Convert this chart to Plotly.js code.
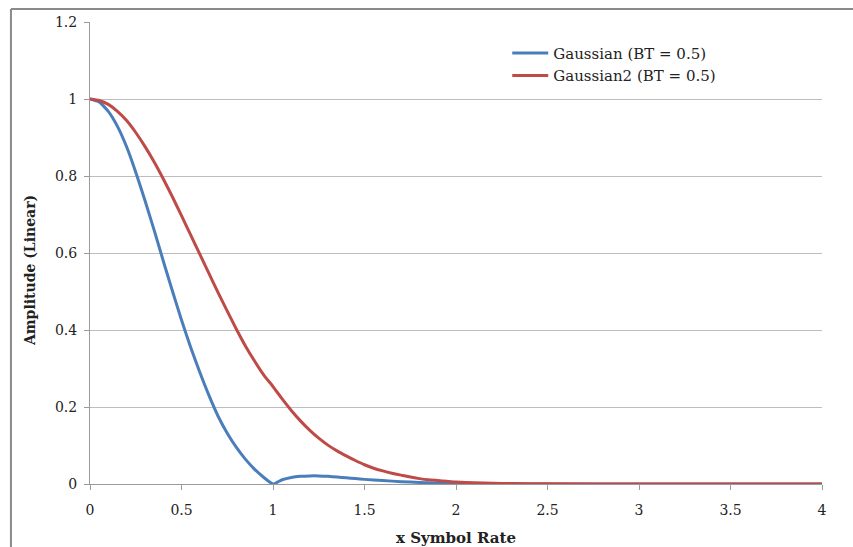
<!DOCTYPE html>
<html>
<head>
<meta charset="utf-8">
<script src="https://cdn.plot.ly/plotly-3.0.1.min.js"></script>
<style>html,body{margin:0;padding:0;background:#fff;}#chart{width:853px;height:547px;}</style>
</head>
<body>
<div id="chart"></div>
<script>
const seriesNames = ["Gaussian (BT = 0.5)", "Gaussian2 (BT = 0.5)"];
const xBlue = [0,0.05,0.1,0.15,0.2,0.25,0.3,0.35,0.4,0.45,0.5,0.55,0.6,0.65,0.7,0.75,0.8,0.85,0.9,0.95,1.0,1.05,1.1,1.15,1.2,1.25,1.3,1.35,1.4,1.45,1.5,1.6,1.7,1.8,1.9,2.0,2.2,2.5,3,3.5,4];
const yBlue = [1.000,0.992,0.968,0.929,0.876,0.810,0.737,0.660,0.580,0.502,0.426,0.355,0.290,0.230,0.176,0.132,0.095,0.064,0.038,0.017,0.000,0.011,0.017,0.020,0.021,0.021,0.020,0.018,0.016,0.014,0.012,0.009,0.006,0.004,0.002,0.001,0.0005,0,0,0,0];
const xRed = [0,0.05,0.1,0.15,0.2,0.25,0.3,0.35,0.4,0.45,0.5,0.55,0.6,0.65,0.7,0.75,0.8,0.85,0.9,0.95,1.0,1.05,1.1,1.15,1.2,1.25,1.3,1.35,1.4,1.45,1.5,1.55,1.6,1.65,1.7,1.75,1.8,1.85,1.9,1.95,2.0,2.1,2.2,2.3,2.5,3,3.5,4];
const yRed = [1.000,0.996,0.986,0.968,0.944,0.913,0.877,0.837,0.793,0.746,0.697,0.647,0.597,0.547,0.497,0.449,0.402,0.358,0.319,0.283,0.253,0.221,0.191,0.164,0.140,0.119,0.101,0.086,0.073,0.061,0.050,0.041,0.034,0.028,0.023,0.018,0.014,0.011,0.009,0.007,0.005,0.003,0.002,0.001,0.0005,0,0,0];
const xTicks = [0,0.5,1,1.5,2,2.5,3,3.5,4];
const xTickText = ["0","0.5","1","1.5","2","2.5","3","3.5","4"];
const yTicks = [0,0.2,0.4,0.6,0.8,1,1.2];
const yTickText = ["0","0.2","0.4","0.6","0.8","1","1.2"];
const xTitle = "x Symbol Rate";
const yTitle = "Amplitude (Linear)";

const font = "'DejaVu Serif', 'Liberation Serif', serif";
const traces = [
  {x: xBlue, y: yBlue, name: seriesNames[0], mode: "lines", line: {color: "#4a7ebb", width: 3, shape: "spline", smoothing: 0.5}},
  {x: xRed, y: yRed, name: seriesNames[1], mode: "lines", line: {color: "#be4b48", width: 3, shape: "spline", smoothing: 0.5}}
];
const layout = {
  width: 853, height: 547,
  margin: {l: 90, r: 31, t: 22, b: 63},
  paper_bgcolor: "#fff", plot_bgcolor: "#fff",
  font: {family: font, size: 14, color: "#222"},
  showlegend: true,
  legend: {x: 0.57, y: 0.968, xanchor: "left", yanchor: "top", bgcolor: "rgba(0,0,0,0)", font: {family: font, size: 15, color: "#222"}, tracegroupgap: 0, itemwidth: 36},
  xaxis: {
    range: [0, 4], tickvals: xTicks, ticktext: xTickText,
    showgrid: false, zeroline: false, showline: true, linecolor: "#9a9a9a", linewidth: 1,
    ticks: "outside", ticklen: 5, tickcolor: "#9a9a9a", ticklabelstandoff: 8,
    tickfont: {family: font, size: 14, color: "#222"},
    title: {text: "<b>" + xTitle + "</b>", font: {family: font, size: 15, color: "#222"}, standoff: 16}
  },
  yaxis: {
    range: [0, 1.2], tickvals: yTicks, ticktext: yTickText,
    showgrid: true, gridcolor: "#bdbdbd", gridwidth: 1,
    zeroline: false, showline: true, linecolor: "#9a9a9a", linewidth: 1,
    ticks: "outside", ticklen: 5, tickcolor: "#9a9a9a", ticklabelstandoff: 4,
    tickfont: {family: font, size: 14, color: "#222"}
  },
  annotations: [
    {text: "<b>" + yTitle + "</b>", xref: "paper", yref: "paper", x: -0.082, y: 0.463, xanchor: "center", yanchor: "middle", textangle: -90, showarrow: false, font: {family: font, size: 14, color: "#222"}}
  ],
  shapes: [
    {type: "line", xref: "paper", yref: "paper", x0: -0.108, x1: 1.05, y0: 1.028, y1: 1.028, line: {color: "#8a8a8a", width: 2}},
    {type: "line", xref: "paper", yref: "paper", x0: -0.108, x1: -0.108, y0: 1.028, y1: -0.2, line: {color: "#8a8a8a", width: 2}}
  ]
};
Plotly.newPlot("chart", traces, layout, {displayModeBar: false, staticPlot: true});
</script>
</body>
</html>
